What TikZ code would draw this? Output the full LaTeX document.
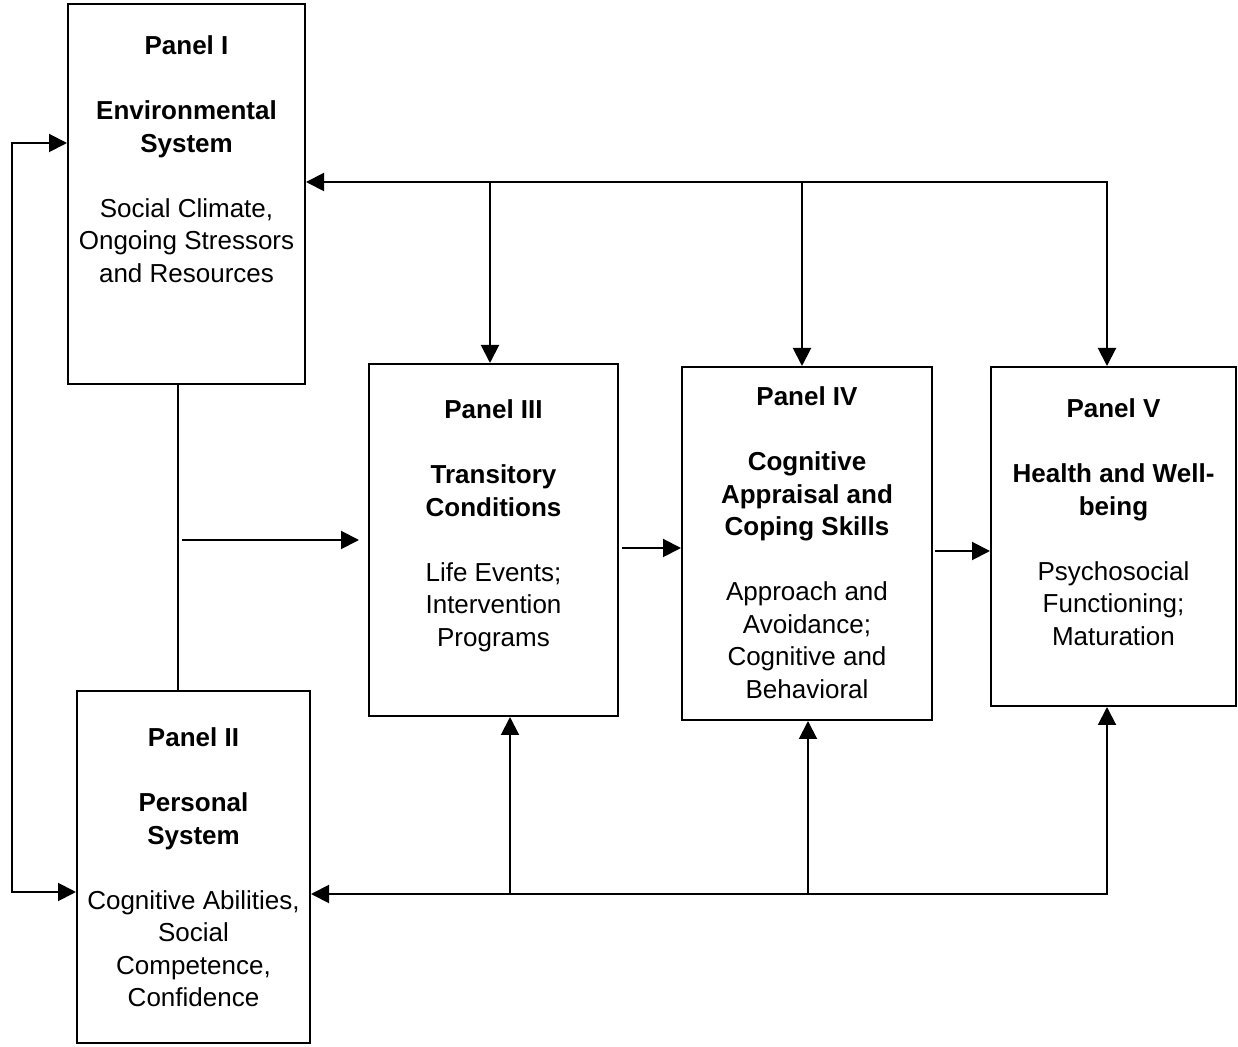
\documentclass[tikz,border=0pt]{standalone}
\usepackage{fontspec}
\setmainfont{Liberation Sans}
\usetikzlibrary{positioning, arrows.meta}

\begin{document}
\begin{tikzpicture}[
		x=0.5pt, y=-0.5pt,
		panel/.style={rectangle, draw, line width=1pt, inner sep=0pt},
		paneltext/.style={align=center, inner sep=0pt, outer sep=0pt,
			font=\fontsize{13}{16.25}\selectfont},
		arrow/.style={-{Triangle[length=9pt, width=9pt]}, line width=1pt, line cap=rect},
		link/.style={line width=1pt}
	]
		\useasboundingbox (0,0) rectangle (1238,1047);
		
		% panels
		\node[panel, minimum width=118.5pt, minimum height=190pt] (p1) at (186.5,194) {};
		\node[panel, minimum width=116.5pt, minimum height=176pt] (p2) at (193.5,867) {};
		\node[panel, minimum width=124.5pt, minimum height=176pt] (p3) at (493.5,540) {};
		\node[panel, minimum width=125pt, minimum height=176.5pt] (p4) at (807,543.5) {};
		\node[panel, minimum width=122.5pt, minimum height=169.5pt] (p5) at (1113.5,536.5) {};
		
		\node[paneltext, below=16.5pt of p1.north] (t1) {\textbf{Panel I}\\[16.25pt]\textbf{Environmental}\\\textbf{System}\\[16.25pt]Social Climate,\\Ongoing Stressors\\and Resources};
		\node[paneltext, below=19pt of p2.north] (t2) {\textbf{Panel II}\\[16.25pt]\textbf{Personal}\\\textbf{System}\\[16.25pt]Cognitive Abilities,\\Social\\Competence,\\Confidence};
		\node[paneltext, below=18.5pt of p3.north] (t3) {\textbf{Panel III}\\[16.25pt]\textbf{Transitory}\\\textbf{Conditions}\\[16.25pt]Life Events;\\Intervention\\Programs};
		\node[paneltext, below=10.5pt of p4.north] (t4) {\textbf{Panel IV}\\[16.25pt]\textbf{Cognitive}\\\textbf{Appraisal and}\\\textbf{Coping Skills}\\[16.25pt]Approach and\\Avoidance;\\Cognitive and\\Behavioral};
		\node[paneltext, below=16.5pt of p5.north] (t5) {\textbf{Panel V}\\[16.25pt]\textbf{Health and Well-}\\\textbf{being}\\[16.25pt]Psychosocial\\Functioning;\\Maturation};
		
		% corner and branch points
		\coordinate (top3) at (490,182);
		\coordinate (top4) at (802,182);
		\coordinate (top5) at (1107,182);
		\coordinate (bot3) at (510,894);
		\coordinate (bot4) at (808,894);
		\coordinate (bot5) at (1107,894);
		\coordinate (loop1) at (12,143);
		\coordinate (loop2) at (12,892);
		\coordinate (join) at (178,540);
		\coordinate (mid34) at (650,548);
		\coordinate (mid45) at (960,551);
		
		% feedback to panel I and downward
		\draw[arrow] (top5) -- (top5 -| p1.east);
		\draw[arrow] (top3) -- (top3 |- p3.north);
		\draw[arrow] (top4) -- (top4 |- p4.north);
		\draw[arrow] (top5) -- (top5 |- p5.north);
		
		% feedback to panel II and upward
		\draw[arrow] (bot5) -- (bot5 -| p2.east);
		\draw[arrow] (bot3) -- (bot3 |- p3.south);
		\draw[arrow] (bot4) -- (bot4 |- p4.south);
		\draw[arrow] (bot5) -- (bot5 |- p5.south);
		
		% panel I <-> panel II
		\draw[arrow, {Triangle[length=9pt, width=9pt]}-{Triangle[length=9pt, width=9pt]}]
			(loop1 -| p1.west) -- (loop1) -- (loop2) -- (loop2 -| p2.west);
		\draw[link] (join |- p1.south) -- (join |- p2.north);
		
		% main path
		\draw[arrow, shorten <=2.5pt, shorten >=4.5pt] (join) -- (join -| p3.west);
		\draw[arrow, shorten <=2pt] (mid34 -| p3.east) -- (mid34 -| p4.west);
		\draw[arrow, shorten <=1.5pt] (mid45 -| p4.east) -- (mid45 -| p5.west);
	\end{tikzpicture}
\end{document}
